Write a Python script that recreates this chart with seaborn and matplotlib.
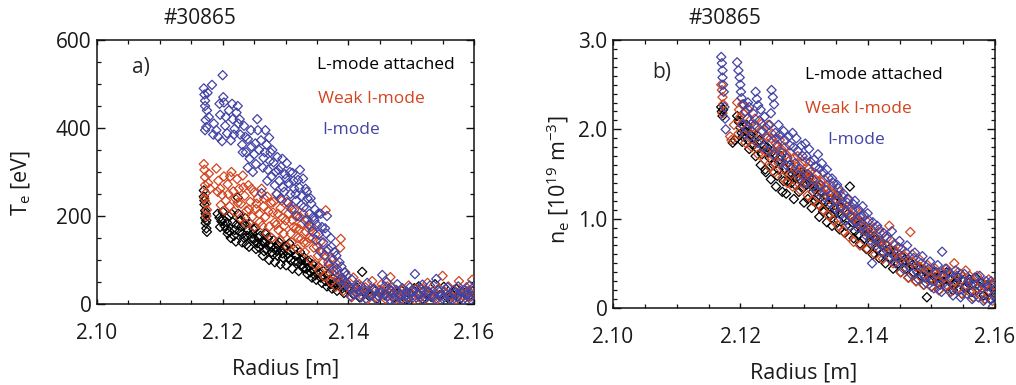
import numpy as np
import pandas as pd
import matplotlib
matplotlib.use("Agg")
import matplotlib.pyplot as plt
import seaborn as sns
from matplotlib.ticker import MultipleLocator

# ---------------- data ----------------
modes = ["L-mode attached", "Weak I-mode", "I-mode"]
colors = {"L-mode attached": "#000000", "Weak I-mode": "#d2451f", "I-mode": "#4343a5"}

# Panel a: Te [eV] vs Radius [m]
a_lmode_r = [2.1170, 2.1170, 2.1171, 2.1172, 2.1172, 2.1173, 2.1174, 2.1175,
             2.1192, 2.1195, 2.1198, 2.1200, 2.1203, 2.1206, 2.1208, 2.1210, 2.1213, 2.1216, 2.1219, 2.1221,
             2.1224, 2.1225, 2.1228, 2.1230, 2.1232, 2.1234, 2.1236, 2.1238, 2.1240,
             2.1244, 2.1247, 2.1250, 2.1252, 2.1255, 2.1258, 2.1260, 2.1263, 2.1266, 2.1268,
             2.1272, 2.1275, 2.1278, 2.1281, 2.1284, 2.1287, 2.1290, 2.1293, 2.1296, 2.1300, 2.1303, 2.1306, 2.1309,
             2.1313, 2.1316, 2.1320, 2.1323, 2.1326, 2.1330, 2.1333, 2.1336, 2.1340, 2.1343, 2.1347,
             2.1352, 2.1356, 2.1360, 2.1364, 2.1368, 2.1372, 2.1376, 2.1380, 2.1385, 2.1390, 2.1395,
             2.1402, 2.1408, 2.1413, 2.1418, 2.1422, 2.1427, 2.1433, 2.1440, 2.1446, 2.1452, 2.1458, 2.1465,
             2.1472, 2.1478, 2.1485, 2.1492, 2.1498, 2.1505, 2.1512, 2.1518, 2.1525, 2.1532, 2.1538, 2.1545,
             2.1552, 2.1558, 2.1565, 2.1572, 2.1578, 2.1585, 2.1592, 2.1598]
a_lmode_te = [258, 244, 226, 212, 196, 184, 172, 164,
              205, 196, 188, 210, 178, 170, 160, 200, 150, 186, 168, 142,
              242, 205, 190, 176, 160, 150, 195, 135, 168,
              182, 160, 148, 172, 138, 128, 155, 142, 120, 160,
              150, 135, 118, 145, 128, 110, 140, 122, 105, 132, 115, 138, 100,
              125, 110, 95, 118, 88, 105, 80, 98, 72, 90, 65,
              85, 60, 75, 52, 68, 45, 58, 40, 50, 35, 42,
              30, 22, 38, 15, 73, 25, 18, 32, 12, 28, 20, 35,
              14, 24, 30, 10, 22, 36, 40, 12, 26, 16, 45, 20,
              39, 14, 22, 34, 12, 25, 18, 30]
a_lmode_extra = [(2.1171, 235), (2.1173, 205), (2.1174, 190), (2.1196, 175), (2.1201, 192), (2.1207, 185),
                 (2.1211, 165), (2.1214, 205), (2.1218, 155), (2.1222, 180), (2.1227, 165), (2.1231, 140),
                 (2.1235, 180), (2.1239, 155), (2.1242, 130), (2.1246, 150), (2.1249, 170), (2.1253, 125),
                 (2.1257, 150), (2.1261, 135), (2.1264, 110), (2.1267, 140), (2.1270, 125), (2.1274, 100),
                 (2.1277, 130), (2.1280, 112), (2.1283, 95), (2.1286, 120), (2.1289, 132), (2.1292, 90),
                 (2.1295, 115), (2.1298, 125), (2.1301, 88), (2.1305, 105), (2.1308, 120), (2.1311, 80),
                 (2.1315, 98), (2.1318, 110), (2.1321, 75), (2.1325, 100), (2.1328, 82), (2.1332, 95),
                 (2.1335, 68), (2.1338, 85), (2.1342, 60), (2.1345, 78), (2.1349, 55), (2.1354, 70),
                 (2.1358, 48), (2.1362, 62), (2.1366, 40), (2.1370, 55), (2.1374, 35), (2.1378, 48),
                 (2.1382, 30), (2.1388, 42), (2.1393, 25), (2.1398, 35)]

a_weak_r = [2.1170, 2.1171, 2.1172, 2.1172, 2.1173, 2.1174, 2.1175, 2.1178, 2.1180,
            2.1190, 2.1193, 2.1196, 2.1199, 2.1202, 2.1205, 2.1208, 2.1211, 2.1214, 2.1217, 2.1220, 2.1223,
            2.1226, 2.1229, 2.1232, 2.1235, 2.1238, 2.1241, 2.1244, 2.1247, 2.1250, 2.1253, 2.1256, 2.1259,
            2.1262, 2.1265, 2.1268, 2.1271, 2.1274, 2.1277, 2.1280, 2.1283, 2.1286, 2.1289, 2.1292, 2.1295, 2.1298,
            2.1302, 2.1305, 2.1308, 2.1311, 2.1314, 2.1317, 2.1320, 2.1323, 2.1326, 2.1329, 2.1332, 2.1335, 2.1338,
            2.1342, 2.1345, 2.1348, 2.1352, 2.1356, 2.1360, 2.1364, 2.1366, 2.1370, 2.1374, 2.1378, 2.1382, 2.1387,
            2.1390, 2.1395, 2.1398,
            2.1403, 2.1408, 2.1412, 2.1417, 2.1422, 2.1427, 2.1433, 2.1438, 2.1444, 2.1450, 2.1456, 2.1462,
            2.1467, 2.1472, 2.1478, 2.1484, 2.1490, 2.1496, 2.1502, 2.1508, 2.1514, 2.1520, 2.1526, 2.1532,
            2.1538, 2.1544, 2.1550, 2.1556, 2.1562, 2.1568, 2.1576, 2.1582, 2.1588, 2.1594, 2.1597]
a_weak_te = [318, 305, 288, 270, 252, 228, 214, 296, 262,
             308, 280, 262, 248, 290, 235, 272, 222, 300, 256, 240, 284,
             262, 228, 292, 246, 212, 270, 232, 198, 254, 216, 240, 186,
             262, 222, 198, 244, 176, 230, 208, 186, 250, 168, 218, 196, 178,
             232, 206, 160, 190, 215, 172, 150, 198, 182, 140, 165, 192, 150,
             176, 128, 158, 110, 142, 95, 213, 120, 80, 105, 65, 90, 128,
             55, 72, 42,
             35, 60, 25, 45, 18, 38, 28, 52, 15, 32, 22, 40,
             61, 18, 30, 12, 26, 42, 20, 34, 14, 28, 48, 22,
             16, 36, 64, 24, 14, 32, 52, 20, 38, 16, 55]
a_weak_extra = [(2.1171, 240), (2.1174, 200), (2.1177, 275), (2.1192, 255), (2.1197, 225), (2.1203, 212),
                (2.1209, 250), (2.1212, 290), (2.1218, 210), (2.1224, 230), (2.1228, 195), (2.1233, 265),
                (2.1237, 182), (2.1242, 215), (2.1246, 262), (2.1250, 175), (2.1254, 228), (2.1258, 205),
                (2.1263, 178), (2.1266, 240), (2.1270, 160), (2.1273, 210), (2.1278, 150), (2.1281, 232),
                (2.1285, 180), (2.1288, 205), (2.1291, 145), (2.1294, 235), (2.1297, 160), (2.1300, 190),
                (2.1303, 130), (2.1307, 220), (2.1310, 140), (2.1313, 175), (2.1316, 200), (2.1319, 125),
                (2.1322, 170), (2.1325, 148), (2.1328, 205), (2.1331, 118), (2.1334, 140), (2.1337, 172),
                (2.1340, 100), (2.1343, 150), (2.1347, 90), (2.1350, 130), (2.1354, 75), (2.1358, 118),
                (2.1362, 62), (2.1368, 95), (2.1372, 50), (2.1376, 82), (2.1380, 40), (2.1384, 60),
                (2.1388, 148), (2.1392, 30), (2.1396, 50),
                (2.1405, 15), (2.1414, 30), (2.1420, 40), (2.1430, 10), (2.1436, 22), (2.1441, 35),
                (2.1447, 18), (2.1453, 45), (2.1459, 12), (2.1465, 25), (2.1470, 38), (2.1475, 10),
                (2.1481, 22), (2.1487, 32), (2.1493, 14), (2.1499, 26), (2.1505, 10), (2.1511, 20),
                (2.1517, 35), (2.1523, 12), (2.1529, 24), (2.1535, 30), (2.1541, 10), (2.1547, 20),
                (2.1553, 28), (2.1559, 40), (2.1565, 18), (2.1571, 10), (2.1579, 26), (2.1586, 14),
                (2.1591, 30), (2.1599, 22)]

a_imode_r = [2.1170, 2.1171, 2.1172, 2.1172, 2.1173, 2.1174, 2.1176, 2.1178,
             2.1183, 2.1186, 2.1190, 2.1193, 2.1196, 2.1199, 2.1200, 2.1201, 2.1202, 2.1204, 2.1207, 2.1210,
             2.1213, 2.1216, 2.1219, 2.1222, 2.1224, 2.1225,
             2.1228, 2.1231, 2.1234, 2.1237, 2.1240, 2.1243, 2.1246, 2.1250, 2.1253, 2.1255, 2.1256, 2.1258, 2.1261,
             2.1265, 2.1268, 2.1270, 2.1272, 2.1274, 2.1276, 2.1278, 2.1281, 2.1284, 2.1287, 2.1290, 2.1293, 2.1296, 2.1299,
             2.1302, 2.1305, 2.1308, 2.1311, 2.1314, 2.1317, 2.1320, 2.1323, 2.1326, 2.1329, 2.1332, 2.1335, 2.1338,
             2.1341, 2.1344, 2.1347,
             2.1350, 2.1353, 2.1356, 2.1360, 2.1363, 2.1366, 2.1368, 2.1372, 2.1375, 2.1378, 2.1382, 2.1386, 2.1390,
             2.1394, 2.1398,
             2.1402, 2.1406, 2.1410, 2.1415, 2.1420, 2.1425, 2.1430, 2.1435, 2.1440, 2.1445, 2.1450, 2.1454,
             2.1458, 2.1463, 2.1468, 2.1473, 2.1478, 2.1483, 2.1488, 2.1493, 2.1498, 2.1503, 2.1506, 2.1510,
             2.1515, 2.1520, 2.1525, 2.1530, 2.1535, 2.1540, 2.1545, 2.1550, 2.1555, 2.1560, 2.1565, 2.1570,
             2.1575, 2.1580, 2.1585, 2.1590, 2.1595, 2.1598]
a_imode_te = [490, 476, 462, 450, 418, 402, 480, 425,
              498, 410, 395, 380, 430, 370, 520, 470, 458, 405, 388, 440,
              372, 420, 398, 435, 450, 410,
              385, 362, 405, 345, 375, 330, 358, 340, 318, 420, 395, 350, 372,
              332, 395, 362, 305, 378, 345, 290, 322, 300, 334, 280, 312, 265, 295,
              320, 275, 250, 298, 262, 235, 282, 305, 245, 220, 262, 240, 205,
              228, 198, 215,
              180, 158, 205, 140, 172, 200, 125, 150, 100, 118, 80, 95, 60,
              72, 45,
              38, 55, 22, 42, 15, 30, 48, 20, 35, 10, 25, 66,
              40, 18, 30, 12, 45, 22, 8, 28, 38, 15, 68, 24,
              35, 10, 20, 42, 16, 57, 28, 12, 34, 20, 8, 26,
              40, 14, 30, 22, 10, 36]
a_imode_extra = [(2.1172, 395), (2.1175, 440), (2.1185, 385), (2.1195, 455), (2.1205, 425), (2.1215, 455),
                 (2.1218, 385), (2.1227, 420), (2.1232, 345), (2.1236, 380), (2.1240, 310), (2.1245, 395),
                 (2.1248, 300), (2.1252, 365), (2.1262, 252), (2.1264, 310), (2.1267, 345), (2.1271, 280),
                 (2.1275, 325), (2.1279, 350), (2.1283, 270), (2.1286, 250), (2.1289, 305), (2.1292, 240),
                 (2.1295, 330), (2.1298, 255), (2.1301, 285), (2.1304, 230), (2.1307, 300), (2.1310, 215),
                 (2.1313, 280), (2.1316, 250), (2.1319, 200), (2.1322, 265), (2.1325, 225), (2.1328, 285),
                 (2.1331, 190), (2.1334, 255), (2.1337, 180), (2.1340, 240), (2.1343, 165), (2.1346, 190),
                 (2.1349, 145), (2.1352, 205), (2.1355, 120), (2.1358, 175), (2.1362, 110), (2.1365, 160),
                 (2.1369, 90), (2.1373, 130), (2.1377, 75), (2.1381, 110), (2.1385, 55), (2.1389, 85),
                 (2.1393, 40), (2.1397, 65),
                 (2.1404, 18), (2.1412, 35), (2.1418, 28), (2.1428, 12), (2.1433, 25), (2.1443, 30),
                 (2.1448, 18), (2.1457, 22), (2.1461, 50), (2.1466, 10), (2.1471, 25), (2.1476, 32),
                 (2.1481, 14), (2.1486, 36), (2.1491, 18), (2.1496, 12), (2.1501, 30), (2.1508, 15),
                 (2.1513, 22), (2.1518, 44), (2.1523, 14), (2.1528, 28), (2.1533, 18), (2.1538, 10),
                 (2.1543, 32), (2.1548, 20), (2.1553, 15), (2.1558, 38), (2.1563, 12), (2.1568, 24),
                 (2.1573, 16), (2.1578, 30), (2.1583, 10), (2.1588, 20), (2.1593, 42), (2.1596, 18)]

# Panel b: ne [1e19 m^-3] vs Radius [m]
b_lmode_r = [2.1170, 2.1171, 2.1172, 2.1188, 2.1195, 2.1198, 2.1200, 2.1202, 2.1204, 2.1208, 2.1212, 2.1216,
             2.1220, 2.1226, 2.1230, 2.1234, 2.1239, 2.1242, 2.1246, 2.1250, 2.1254, 2.1258, 2.1262, 2.1266,
             2.1270, 2.1274, 2.1278, 2.1282, 2.1286, 2.1290, 2.1294, 2.1298, 2.1302, 2.1306, 2.1310, 2.1314,
             2.1318, 2.1322, 2.1326, 2.1330, 2.1334, 2.1338, 2.1342, 2.1346, 2.1350, 2.1354, 2.1358, 2.1362,
             2.1366, 2.1372, 2.1376, 2.1380, 2.1385, 2.1390, 2.1395, 2.1400, 2.1405, 2.1410, 2.1415, 2.1420,
             2.1425, 2.1430, 2.1436, 2.1442, 2.1448, 2.1454, 2.1460, 2.1466, 2.1472, 2.1478, 2.1484, 2.1490,
             2.1493, 2.1498, 2.1504, 2.1510, 2.1516, 2.1522, 2.1528, 2.1534, 2.1540, 2.1546, 2.1552, 2.1558,
             2.1564, 2.1570, 2.1576, 2.1582, 2.1588, 2.1594, 2.1598]
b_lmode_ne = [2.25, 2.20, 2.15, 1.85, 2.15, 2.08, 2.02, 1.96, 1.92, 1.98, 1.88, 1.94,
              1.82, 1.79, 1.88, 1.72, 1.55, 1.80, 1.68, 1.75, 1.62, 1.48, 1.66, 1.30,
              1.56, 1.42, 1.60, 1.50, 1.38, 1.52, 1.44, 1.34, 1.48, 1.22, 1.40, 1.30,
              1.20, 1.36, 1.14, 1.08, 1.26, 1.16, 1.04, 1.20, 1.10, 0.98, 1.12, 1.02,
              0.92, 1.36, 0.96, 0.86, 0.82, 0.95, 0.78, 0.88, 0.72, 0.80, 0.66, 0.74,
              0.62, 0.70, 0.56, 0.64, 0.50, 0.58, 0.44, 0.52, 0.40, 0.47, 0.36, 0.42,
              0.12, 0.32, 0.40, 0.28, 0.36, 0.24, 0.32, 0.20, 0.30, 0.38, 0.22, 0.28,
              0.18, 0.34, 0.24, 0.14, 0.26, 0.10, 0.20]
b_lmode_extra = [(2.1173, 2.22), (2.1191, 1.88), (2.1197, 2.10), (2.1203, 1.86), (2.1210, 2.05), (2.1214, 1.78),
                 (2.1218, 1.98), (2.1224, 1.70), (2.1228, 1.92), (2.1232, 1.60), (2.1237, 1.82), (2.1240, 1.52),
                 (2.1244, 1.74), (2.1248, 1.44), (2.1252, 1.60), (2.1256, 1.36), (2.1260, 1.55), (2.1264, 1.70),
                 (2.1268, 1.42), (2.1272, 1.28), (2.1276, 1.50), (2.1280, 1.40), (2.1284, 1.22), (2.1288, 1.46),
                 (2.1292, 1.30), (2.1296, 1.52), (2.1300, 1.18), (2.1304, 1.38), (2.1308, 1.46), (2.1312, 1.12),
                 (2.1316, 1.36), (2.1320, 1.24), (2.1324, 1.02), (2.1328, 1.30), (2.1332, 1.18), (2.1336, 0.96),
                 (2.1340, 1.14), (2.1344, 0.92), (2.1348, 1.06), (2.1352, 1.26), (2.1356, 0.88), (2.1360, 1.18),
                 (2.1364, 0.84), (2.1368, 1.05), (2.1378, 0.78), (2.1382, 1.00), (2.1388, 0.72), (2.1392, 0.88),
                 (2.1398, 0.66), (2.1403, 0.82), (2.1408, 0.60), (2.1412, 0.76), (2.1418, 0.56), (2.1422, 0.70),
                 (2.1428, 0.50), (2.1434, 0.66), (2.1440, 0.44), (2.1446, 0.62), (2.1452, 0.40), (2.1458, 0.54),
                 (2.1464, 0.34), (2.1470, 0.48), (2.1476, 0.30), (2.1482, 0.44), (2.1488, 0.26), (2.1494, 0.38),
                 (2.1500, 0.24), (2.1506, 0.34), (2.1512, 0.20), (2.1518, 0.30), (2.1524, 0.40), (2.1530, 0.18),
                 (2.1536, 0.26), (2.1542, 0.34), (2.1548, 0.16), (2.1554, 0.24), (2.1560, 0.32), (2.1566, 0.12),
                 (2.1572, 0.22), (2.1578, 0.28), (2.1584, 0.10), (2.1590, 0.18), (2.1596, 0.26)]

b_weak_r = [2.1170, 2.1171, 2.1172, 2.1173, 2.1184, 2.1186, 2.1195, 2.1198, 2.1200, 2.1202, 2.1205, 2.1210,
            2.1215, 2.1220, 2.1225, 2.1230, 2.1235, 2.1240, 2.1244, 2.1248, 2.1252, 2.1256, 2.1260, 2.1264,
            2.1268, 2.1272, 2.1276, 2.1280, 2.1284, 2.1288, 2.1292, 2.1296, 2.1300, 2.1304, 2.1308, 2.1312,
            2.1316, 2.1320, 2.1324, 2.1328, 2.1332, 2.1336, 2.1340, 2.1344, 2.1348, 2.1352, 2.1356, 2.1360,
            2.1364, 2.1368, 2.1372, 2.1376, 2.1380, 2.1385, 2.1390, 2.1395, 2.1400, 2.1405, 2.1410, 2.1415,
            2.1420, 2.1425, 2.1430, 2.1436, 2.1442, 2.1448, 2.1454, 2.1460, 2.1467, 2.1470, 2.1476, 2.1482,
            2.1488, 2.1494, 2.1500, 2.1506, 2.1512, 2.1518, 2.1524, 2.1530, 2.1536, 2.1542, 2.1548, 2.1554,
            2.1560, 2.1566, 2.1572, 2.1578, 2.1584, 2.1590, 2.1596, 2.1599]
b_weak_ne = [2.50, 2.44, 2.36, 2.28, 1.92, 1.88, 2.30, 2.22, 2.14, 2.06, 2.18, 2.00,
             2.10, 1.94, 2.04, 1.86, 1.98, 1.76, 2.05, 1.90, 1.70, 1.84, 1.62, 1.78,
             1.56, 1.72, 1.64, 1.50, 1.68, 1.58, 1.44, 1.62, 1.52, 1.40, 1.56, 1.46,
             1.34, 1.50, 1.38, 1.28, 1.44, 1.32, 1.22, 1.36, 1.26, 1.14, 1.30, 1.18,
             1.08, 1.22, 1.12, 1.00, 1.10, 0.94, 1.04, 0.86, 0.96, 0.80, 0.90, 0.74,
             0.84, 0.68, 0.78, 0.62, 0.72, 0.56, 0.66, 0.50, 0.85, 0.60, 0.46, 0.54,
             0.38, 0.48, 0.34, 0.44, 0.30, 0.40, 0.26, 0.36, 0.50, 0.22, 0.32, 0.42,
             0.18, 0.28, 0.36, 0.14, 0.24, 0.32, 0.08, 0.26]
b_weak_extra = [(2.1172, 2.18), (2.1190, 2.05), (2.1197, 1.95), (2.1203, 2.28), (2.1208, 1.85), (2.1213, 2.22),
                (2.1218, 1.80), (2.1223, 2.12), (2.1228, 1.72), (2.1233, 2.06), (2.1238, 1.66), (2.1242, 1.92),
                (2.1246, 1.58), (2.1250, 1.95), (2.1254, 1.52), (2.1258, 1.80), (2.1262, 1.88), (2.1266, 1.46),
                (2.1270, 1.80), (2.1274, 1.40), (2.1278, 1.74), (2.1282, 1.36), (2.1286, 1.55), (2.1290, 1.70),
                (2.1294, 1.32), (2.1298, 1.48), (2.1302, 1.64), (2.1306, 1.26), (2.1310, 1.52), (2.1314, 1.20),
                (2.1318, 1.44), (2.1322, 1.16), (2.1326, 1.42), (2.1330, 1.10), (2.1334, 1.36), (2.1338, 1.04),
                (2.1342, 1.30), (2.1346, 0.98), (2.1350, 1.22), (2.1354, 0.92), (2.1358, 1.14), (2.1362, 0.86),
                (2.1366, 1.10), (2.1370, 0.80), (2.1374, 1.04), (2.1378, 0.74), (2.1382, 0.98), (2.1388, 0.70),
                (2.1394, 0.92), (2.1400, 0.66), (2.1406, 0.86), (2.1412, 0.60), (2.1418, 0.76), (2.1424, 0.55),
                (2.1430, 0.70), (2.1434, 0.92), (2.1440, 0.50), (2.1446, 0.62), (2.1452, 0.40), (2.1458, 0.58),
                (2.1464, 0.34), (2.1470, 0.52), (2.1476, 0.30), (2.1482, 0.46), (2.1488, 0.26), (2.1494, 0.42),
                (2.1500, 0.24), (2.1506, 0.38), (2.1512, 0.20), (2.1518, 0.34), (2.1524, 0.44), (2.1530, 0.18),
                (2.1536, 0.30), (2.1542, 0.40), (2.1548, 0.16), (2.1554, 0.26), (2.1560, 0.36), (2.1566, 0.12),
                (2.1572, 0.22), (2.1578, 0.30), (2.1584, 0.10), (2.1590, 0.20), (2.1596, 0.28)]

b_imode_r = [2.1170, 2.1171, 2.1172, 2.1172, 2.1173, 2.1174, 2.1175, 2.1176, 2.1177,
             2.1195, 2.1197, 2.1199, 2.1200, 2.1201, 2.1202, 2.1205, 2.1208, 2.1211, 2.1214, 2.1217, 2.1220,
             2.1224, 2.1226, 2.1228, 2.1230, 2.1234, 2.1238, 2.1242, 2.1246, 2.1249, 2.1251, 2.1253, 2.1255,
             2.1258, 2.1262, 2.1266, 2.1270, 2.1274, 2.1278, 2.1282, 2.1286, 2.1290, 2.1294, 2.1298, 2.1302,
             2.1306, 2.1310, 2.1314, 2.1318, 2.1322, 2.1326, 2.1330, 2.1334, 2.1338, 2.1342, 2.1346, 2.1350,
             2.1354, 2.1358, 2.1362, 2.1366, 2.1370, 2.1374, 2.1378, 2.1382, 2.1386, 2.1390, 2.1394, 2.1398,
             2.1402, 2.1407, 2.1410, 2.1415, 2.1420, 2.1425, 2.1430, 2.1436, 2.1442, 2.1448, 2.1454, 2.1460,
             2.1466, 2.1472, 2.1478, 2.1484, 2.1490, 2.1496, 2.1502, 2.1508, 2.1514, 2.1517, 2.1520, 2.1526,
             2.1532, 2.1538, 2.1544, 2.1550, 2.1556, 2.1562, 2.1568, 2.1574, 2.1580, 2.1586, 2.1592, 2.1597,
             2.1599]
b_imode_ne = [2.81, 2.74, 2.66, 2.58, 2.50, 2.42, 2.25, 2.12, 2.00,
              2.75, 2.66, 2.58, 2.50, 2.42, 2.35, 2.28, 2.20, 2.12, 2.25, 2.06, 2.18,
              2.42, 2.34, 2.27, 2.10, 1.98, 2.14, 1.90, 2.05, 2.44, 2.36, 2.28, 1.96,
              1.82, 1.94, 1.74, 1.88, 1.68, 1.82, 1.96, 1.62, 1.76, 1.56, 1.70, 1.84,
              1.50, 1.64, 1.44, 1.58, 1.72, 1.38, 1.52, 1.32, 1.46, 1.26, 1.40, 1.20,
              1.34, 1.14, 1.28, 1.08, 1.22, 1.02, 1.16, 0.96, 1.10, 0.92, 1.04, 0.86,
              0.98, 0.50, 0.80, 0.92, 0.72, 0.84, 0.64, 0.76, 0.58, 0.68, 0.52, 0.62,
              0.46, 0.56, 0.40, 0.50, 0.34, 0.44, 0.30, 0.40, 0.26, 0.63, 0.36, 0.22,
              0.32, 0.42, 0.20, 0.30, 0.16, 0.26, 0.34, 0.12, 0.22, 0.30, 0.10, 0.02,
              0.20]
b_imode_extra = [(2.1203, 2.05), (2.1207, 1.95), (2.1212, 2.30), (2.1216, 1.92), (2.1222, 2.05), (2.1227, 1.85),
                 (2.1232, 2.22), (2.1236, 1.80), (2.1240, 2.02), (2.1244, 1.76), (2.1248, 2.18), (2.1252, 1.72),
                 (2.1256, 1.90), (2.1260, 2.05), (2.1264, 1.62), (2.1268, 1.98), (2.1272, 1.60), (2.1276, 1.92),
                 (2.1280, 1.56), (2.1284, 1.80), (2.1288, 1.90), (2.1292, 1.48), (2.1296, 1.82), (2.1300, 1.40),
                 (2.1304, 1.70), (2.1308, 1.78), (2.1312, 1.36), (2.1316, 1.66), (2.1320, 1.30), (2.1324, 1.56),
                 (2.1328, 1.62), (2.1332, 1.24), (2.1336, 1.55), (2.1340, 1.18), (2.1344, 1.45), (2.1348, 1.12),
                 (2.1352, 1.38), (2.1356, 1.05), (2.1360, 1.25), (2.1364, 0.98), (2.1368, 1.18), (2.1372, 0.92),
                 (2.1376, 1.10), (2.1380, 1.20), (2.1384, 0.90), (2.1388, 1.02), (2.1392, 1.14), (2.1396, 0.82),
                 (2.1400, 1.06), (2.1404, 0.76), (2.1408, 0.96), (2.1413, 0.70), (2.1418, 0.88), (2.1423, 0.62),
                 (2.1428, 0.80), (2.1433, 0.56), (2.1438, 0.86), (2.1444, 0.50), (2.1450, 0.75), (2.1456, 0.44),
                 (2.1462, 0.70), (2.1468, 0.38), (2.1474, 0.62), (2.1480, 0.32), (2.1486, 0.58), (2.1492, 0.28),
                 (2.1498, 0.52), (2.1504, 0.22), (2.1510, 0.48), (2.1516, 0.18), (2.1522, 0.44), (2.1528, 0.40),
                 (2.1534, 0.14), (2.1540, 0.36), (2.1546, 0.12), (2.1552, 0.38), (2.1558, 0.30), (2.1564, 0.10),
                 (2.1570, 0.26), (2.1576, 0.36), (2.1582, 0.08), (2.1588, 0.24), (2.1594, 0.30), (2.1598, 0.14)]


def frame(series):
    parts = []
    for mode, (r, v, extra) in zip(modes, series):
        rr = list(r) + [p[0] for p in extra]
        vv = list(v) + [p[1] for p in extra]
        parts.append(pd.DataFrame({"r": rr, "v": vv, "mode": mode}))
    return pd.concat(parts, ignore_index=True)


df_a = frame([(a_lmode_r, a_lmode_te, a_lmode_extra),
              (a_weak_r, a_weak_te, a_weak_extra),
              (a_imode_r, a_imode_te, a_imode_extra)])
df_b = frame([(b_lmode_r, b_lmode_ne, b_lmode_extra),
              (b_weak_r, b_weak_ne, b_weak_extra),
              (b_imode_r, b_imode_ne, b_imode_extra)])

# ---------------- style ----------------
sns.set_theme(style="ticks")
plt.rcParams["font.family"] = ["Open Sans", "DejaVu Sans"]
plt.rcParams["mathtext.default"] = "regular"
plt.rcParams["axes.linewidth"] = 1.1
plt.rcParams["axes.edgecolor"] = "#111111"

fig = plt.figure(figsize=(10.16, 3.85), dpi=100)
ax_a = fig.add_axes([97 / 1016, 1 - 304 / 385, 377 / 1016, 264 / 385])
ax_b = fig.add_axes([613 / 1016, 1 - 308 / 385, 382 / 1016, 268 / 385])


def draw(ax, df):
    sns.scatterplot(data=df, x="r", y="v", hue="mode", palette=colors, hue_order=modes,
                    marker="D", s=22, linewidth=0.9, legend=False, ax=ax, zorder=3)
    coll = ax.collections[-1]
    fc = coll.get_facecolors()
    coll.set_edgecolors(fc)
    coll.set_facecolors("none")
    ax.set_xlim(2.10, 2.16)
    ax.set_xticks([2.10, 2.12, 2.14, 2.16])
    ax.set_xticklabels(["2.10", "2.12", "2.14", "2.16"])
    ax.xaxis.set_minor_locator(MultipleLocator(0.005))
    ax.tick_params(which="both", direction="in", top=True, right=True, colors="#111111",
                   labelsize=15, labelcolor="#1a1a1a")
    ax.tick_params(axis="y", which="major", length=6, width=1.0, pad=4)
    ax.tick_params(axis="y", which="minor", length=3, width=0.9)
    ax.tick_params(axis="x", which="major", length=3.5, width=1.0, pad=14)
    ax.tick_params(axis="x", which="minor", length=3, width=0.9)
    ax.set_xlabel("Radius [m]", fontsize=15.5, labelpad=10, color="#1a1a1a")
    for sp in ax.spines.values():
        sp.set_visible(True)


draw(ax_a, df_a)
ax_a.set_ylim(0, 600)
ax_a.set_yticks([0, 200, 400, 600])
ax_a.set_yticklabels(["0", "200", "400", "600"])
ax_a.yaxis.set_minor_locator(MultipleLocator(50))
ax_a.set_ylabel("T$_{e}$ [eV]", fontsize=15.5, color="#1a1a1a")
ax_a.yaxis.set_label_coords(-0.17, 0.46)

draw(ax_b, df_b)
ax_b.set_ylim(0, 3.0)
ax_b.set_yticks([0, 1.0, 2.0, 3.0])
ax_b.set_yticklabels(["0", "1.0", "2.0", "3.0"])
ax_b.yaxis.set_minor_locator(MultipleLocator(0.1))
ax_b.set_ylabel("n$_{e}$ [10$^{19}$ m$^{-3}$]", fontsize=15.5, color="#1a1a1a")
ax_b.yaxis.set_label_coords(-0.11, 0.48)

# panel annotations
ax_a.text(0.093, 0.894, "a)", transform=ax_a.transAxes, fontsize=15, va="center", ha="left")
ax_a.text(0.584, 0.907, "L-mode attached", transform=ax_a.transAxes, fontsize=12.5, va="center",
          ha="left", color=colors["L-mode attached"])
ax_a.text(0.586, 0.778, "Weak I-mode", transform=ax_a.transAxes, fontsize=12.5, va="center",
          ha="left", color=colors["Weak I-mode"])
ax_a.text(0.597, 0.659, "I-mode", transform=ax_a.transAxes, fontsize=12.5, va="center",
          ha="left", color=colors["I-mode"])

ax_b.text(0.102, 0.877, "b)", transform=ax_b.transAxes, fontsize=15, va="center", ha="left")
ax_b.text(0.503, 0.869, "L-mode attached", transform=ax_b.transAxes, fontsize=12.5, va="center",
          ha="left", color=colors["L-mode attached"])
ax_b.text(0.503, 0.743, "Weak I-mode", transform=ax_b.transAxes, fontsize=12.5, va="center",
          ha="left", color=colors["Weak I-mode"])
ax_b.text(0.560, 0.627, "I-mode", transform=ax_b.transAxes, fontsize=12.5, va="center",
          ha="left", color=colors["I-mode"])

fig.text(200 / 1016, 1 - 19 / 385, "#30865", fontsize=15, ha="center", va="center", color="#1a1a1a")
fig.text(725 / 1016, 1 - 19 / 385, "#30865", fontsize=15, ha="center", va="center", color="#1a1a1a")

fig.savefig("out.png", dpi=100)
